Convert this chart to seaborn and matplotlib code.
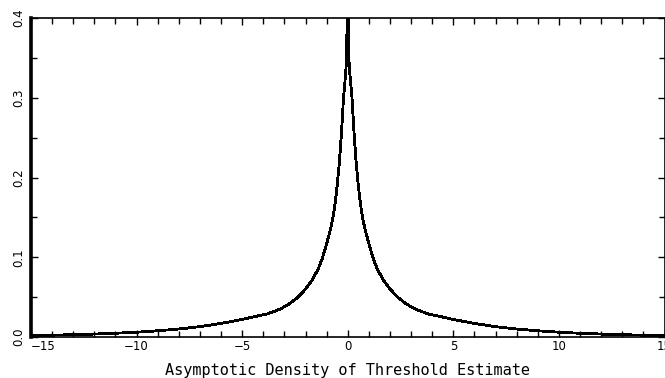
import matplotlib
matplotlib.use("Agg")
import matplotlib.pyplot as plt
import pandas as pd
import seaborn as sns
from matplotlib.ticker import MultipleLocator, FormatStrFormatter

# Values (density is symmetric around 0, spike at 0 goes past the top)
x_vals = [-15, -14, -13, -12, -11, -10, -9, -8, -7, -6, -5, -4.5, -3.8, -3.2,
          -2.8, -2.4, -2.0, -1.7, -1.4, -1.2, -1.0, -0.8, -0.7, -0.6, -0.5,
          -0.4, -0.3, -0.2, -0.1, -0.05, 0.0,
          0.05, 0.1, 0.2, 0.3, 0.4, 0.5, 0.6, 0.7, 0.8, 1.0, 1.2, 1.4, 1.7,
          2.0, 2.4, 2.8, 3.2, 3.8, 4.5, 5, 6, 7, 8, 9, 10, 11, 12, 13, 14, 15]
density = [0.0018, 0.0023, 0.0029, 0.0037, 0.0047, 0.006, 0.0078, 0.010, 0.013,
           0.017, 0.022, 0.025, 0.029, 0.035, 0.041, 0.049, 0.060, 0.071, 0.085,
           0.099, 0.117, 0.137, 0.150, 0.167, 0.190, 0.218, 0.255, 0.300, 0.330,
           0.350, 0.500,
           0.350, 0.330, 0.300, 0.255, 0.218, 0.190, 0.167, 0.150, 0.137, 0.117,
           0.099, 0.085, 0.071, 0.060, 0.049, 0.041, 0.035, 0.029, 0.025, 0.022,
           0.017, 0.013, 0.010, 0.0078, 0.006, 0.0047, 0.0037, 0.0029, 0.0023,
           0.0018]

x_ticks = [-15, -10, -5, 0, 5, 10, 15]
y_ticks = [0.0, 0.1, 0.2, 0.3, 0.4]

sns.set_theme(style="ticks")
plt.rcParams['font.family'] = ['DejaVu Sans']

df = pd.DataFrame({'x': x_vals, 'density': density})

fig = plt.figure(figsize=(6.65, 3.78), dpi=100)
fig.patch.set_facecolor('white')
ax = fig.add_axes([31 / 665, 1 - 337 / 378, (664.5 - 31) / 665, (337 - 18) / 378])

sns.lineplot(data=df, x='x', y='density', color='black', linewidth=1.3,
             estimator=None, antialiased=False, ax=ax)

ax.set_xlim(-15, 15)
ax.set_ylim(0, 0.4)
ax.set_xticks(x_ticks)
ax.set_yticks(y_ticks)
ax.xaxis.set_minor_locator(MultipleLocator(1))
ax.yaxis.set_minor_locator(MultipleLocator(0.05))
ax.yaxis.set_major_formatter(FormatStrFormatter('%.1f'))

ax.tick_params(which='both', direction='in', top=True, right=True,
               color='black', width=1, labelsize=8.5, labelcolor='black')
ax.tick_params(which='major', length=5)
ax.tick_params(which='minor', length=4)
ax.tick_params(axis='x', pad=2)
ax.tick_params(axis='y', pad=4)
for lab in ax.get_yticklabels():
    lab.set_rotation(90)
    lab.set_va('center')
ax.get_xticklabels()[0].set_ha('left')

for side in ['top', 'right', 'bottom']:
    ax.spines[side].set_linewidth(1.2)
    ax.spines[side].set_color('black')
ax.spines['left'].set_linewidth(2.6)
ax.spines['left'].set_color('black')

ax.set_ylabel('')
ax.set_xlabel('Asymptotic Density of Threshold Estimate', fontsize=11,
              family=['DejaVu Sans Mono'], color='black', labelpad=7)

fig.savefig('out.png', dpi=100, facecolor='white')
